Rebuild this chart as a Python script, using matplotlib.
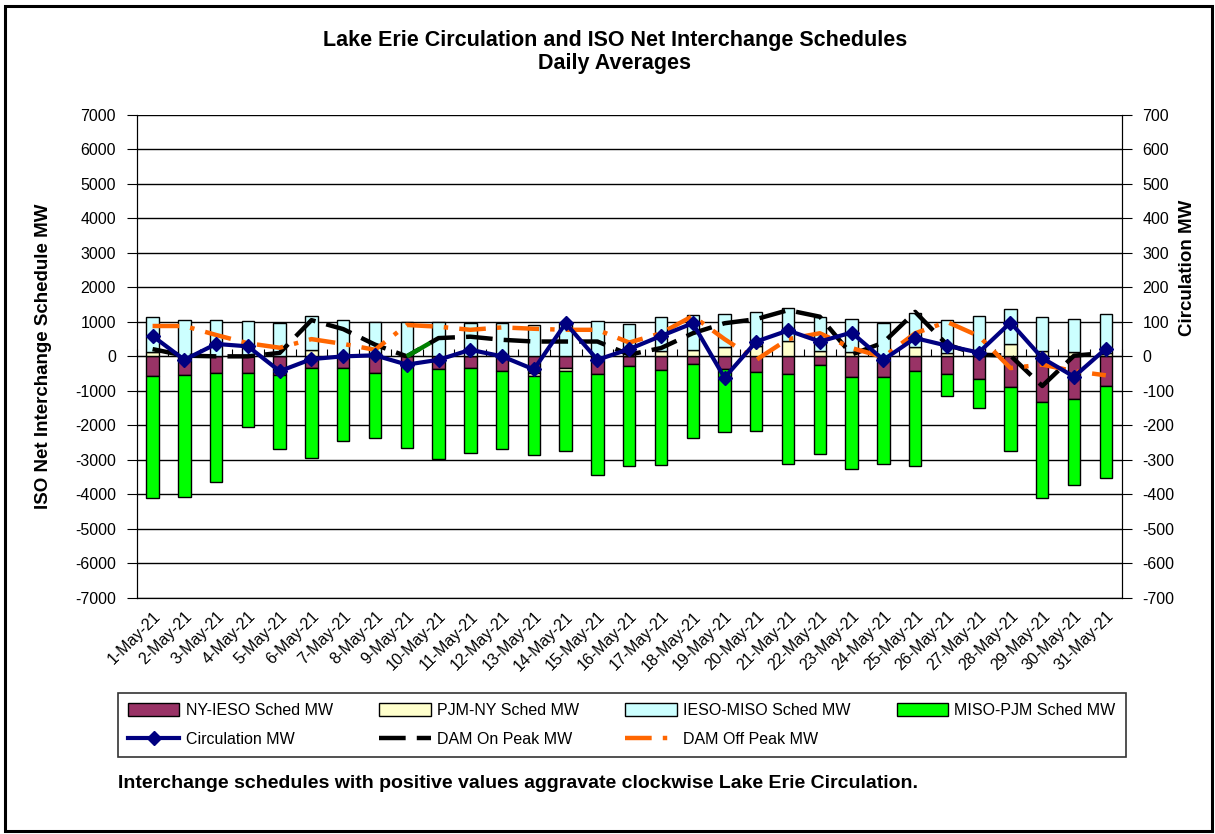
import numpy as np
import matplotlib
matplotlib.use("Agg")
import matplotlib.pyplot as plt
from matplotlib.patches import Rectangle

plt.rcParams['font.family'] = ['Liberation Sans', 'DejaVu Sans']
plt.rcParams['axes.unicode_minus'] = False

# daily averages, May 2021
days = [f"{d}-May-21" for d in range(1, 32)]

ny_ieso = [-575, -536, -479, -479, -536, -345, -345, -479, -250, -364, -345, -431, -479, -345, -498, -268,
           -383, -230, -380, -460, -498, -259, -604, -604, -412, -508, -671, -891, -1322, -1245, -862]
pjm_ny = [115, 20, 20, 15, 10, 192, 20, 15, 10, 10, 10, 10, -96, -67, 10, 10,
          144, 192, 268, 306, 431, 163, 115, 0, 268, 96, 0, 345, 144, 134, 96]
ieso_miso = [1015, 1034, 1034, 1010, 967, 986, 1034, 990, 995, 995, 967, 967, 900, 977, 1015, 929,
             986, 996, 958, 978, 977, 967, 977, 977, 997, 958, 1178, 1025, 986, 958, 1130]
miso_pjm = [-3545, -3544, -3179, -1579, -2144, -2598, -2105, -1887, -2394, -2626, -2451, -2249, -2298, -2345, -2930, -2902,
            -2777, -2145, -1822, -1713, -2614, -2585, -2652, -2508, -2767, -641, -841, -1857, -2796, -2490, -2662]

circulation = [59, -10, 36, 29, -43, -8, 0, 3, -24, -10, 19, 0, -38, 96, -10, 21,
               59, 96, -62, 43, 75, 43, 69, -10, 53, 31, 11, 98, -5, -59, 22]
dam_on = [21, 2, 0, 0, 10, 105, 79, 34, 0, 53, 57, 48, 43, 43, 43, 5,
          24, 67, 96, 108, 134, 115, 5, 40, 129, 34, 5, 2, -86, 2, 10]
dam_off = [88, 88, 62, 38, 25, 50, 36, 19, 91, 86, 77, 84, 80, 77, 77, 40,
           67, 117, 50, -10, 50, 67, 24, -2, 67, 100, 59, -34, -24, -43, -55]

W, H = 1215, 834
fig = plt.figure(figsize=(W / 100, H / 100), dpi=100)
fig.patch.set_facecolor('white')
fig.patches.append(Rectangle((5 / W, 3 / H), 1 - 8 / W, 1 - 9 / H, transform=fig.transFigure,
                             fill=False, edgecolor='black', lw=2.2))

ax = fig.add_axes([136.7 / W, 1 - 597.7 / H, (1121.7 - 136.7) / W, (597.7 - 115) / H])
x = np.arange(len(days))
bw = 0.39

def stack(vals_list):
    pos = np.zeros(len(days))
    neg = np.zeros(len(days))
    out = []
    for v in vals_list:
        v = np.array(v, dtype=float)
        out.append(np.where(v >= 0, pos, neg))
        pos = pos + np.where(v >= 0, v, 0)
        neg = neg + np.where(v < 0, v, 0)
    return out

series = [ny_ieso, pjm_ny, ieso_miso, miso_pjm]
names = ['NY-IESO Sched MW', 'PJM-NY Sched MW', 'IESO-MISO Sched MW', 'MISO-PJM Sched MW']
colors = ['#993366', '#FFFFCC', '#CCFFFF', '#00FF00']
bases = stack(series)
bars = []
for v, b, c, n in zip(series, bases, colors, names):
    bars.append(ax.bar(x, v, bw, bottom=b, color=c, edgecolor='black', lw=1, label=n, zorder=3))

ax.set_ylim(-7000, 7000)
ax.set_xlim(-0.5, len(days) - 0.5)
ax.set_yticks(np.arange(-7000, 7001, 1000))
ax.yaxis.grid(True, color='black', lw=1)
ax.set_axisbelow(True)
ax.set_xticks(x)
ax.set_xticklabels(days, rotation=45, ha='right', rotation_mode='anchor', fontsize=11.5)
ax.tick_params(axis='x', length=0, pad=8)
ax.tick_params(axis='y', direction='out', length=7, labelsize=11.5, pad=8)
ax.spines['top'].set_visible(False)
ax.set_ylabel('ISO Net Interchange Schedule MW', fontsize=13.5, fontweight='bold')
ax.yaxis.set_label_coords(-0.086, 0.5)

# category tick marks on the zero line
sec = ax.secondary_xaxis(0.5)
sec.set_xticks(np.arange(-0.5, len(days), 1.0))
sec.set_xticklabels([])
sec.tick_params(direction='out', length=5)
sec.spines['bottom'].set_visible(False)

ax2 = ax.twinx()
ax2.set_ylim(-700, 700)
ax2.set_yticks(np.arange(-700, 701, 100))
ax2.tick_params(axis='y', direction='out', length=7, labelsize=11.5, pad=8)
ax2.spines['top'].set_visible(False)
ax2.set_ylabel('Circulation MW', fontsize=13.5, fontweight='bold')
ax2.yaxis.set_label_coords(1.058, 0.683)

l_on, = ax2.plot(x, dam_on, color='black', lw=3.2, dashes=(6, 2.5), label='DAM On Peak MW', zorder=4)
ax2.plot(x[8:10], dam_on[8:10], color='#008000', lw=3.2, dashes=(6, 2.5), zorder=4)
l_off, = ax2.plot(x, dam_off, color='#FF6600', lw=3.2, dashes=(6, 2.5, 1, 2.5), label='DAM Off Peak MW', zorder=4)
l_circ, = ax2.plot(x, circulation, color='#000080', lw=3, marker='D', ms=7.5, label='Circulation MW', zorder=5)

fig.text(0.506, 1 - 52 / H, 'Lake Erie Circulation and ISO Net Interchange Schedules\nDaily Averages',
         ha='center', va='center', fontsize=15.5, fontweight='bold', linespacing=1.12)

handles = [bars[0], l_circ, bars[1], l_on, bars[2], l_off, bars[3]]
labels = [h.get_label() for h in handles]
leg = fig.legend(handles, labels, ncol=4, loc='lower left',
                 bbox_to_anchor=(118 / W, 1 - 757 / H, (1126 - 118) / W, (757 - 693) / H),
                 mode='expand', fontsize=11.5, frameon=True, fancybox=False, edgecolor='black',
                 handlelength=3.2, handleheight=0.8, borderaxespad=0, labelspacing=0.85,
                 borderpad=0.65, handletextpad=0.4)
leg.get_frame().set_linewidth(1.2)

fig.text(118 / W, 1 - 783 / H, 'Interchange schedules with positive values aggravate clockwise Lake Erie Circulation.',
         ha='left', va='center', fontsize=14.0, fontweight='bold')

fig.savefig('out.png', dpi=100)
